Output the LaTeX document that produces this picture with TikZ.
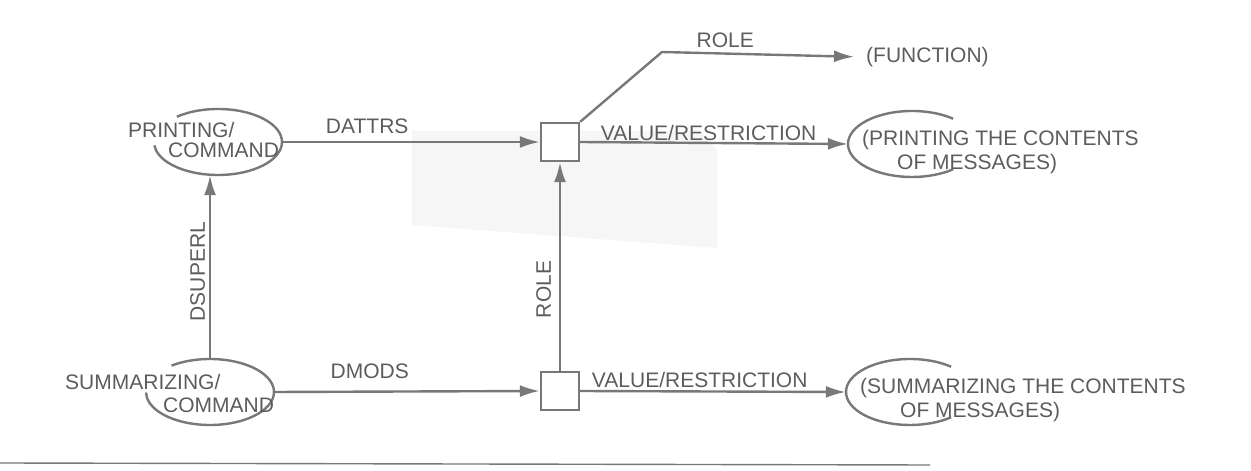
\documentclass[tikz,border=0pt]{standalone}
\usepackage{fontspec}
\setmainfont{Liberation Sans}
\usetikzlibrary{arrows.meta,shapes.geometric}
\definecolor{pencil}{RGB}{120,120,120}
\definecolor{lead}{RGB}{92,92,92}
\tikzset{
  ink/.style={draw=pencil, line width=2.4pt},
  link/.style={ink, -{Latex[length=20pt,width=12pt]}},
  slotbox/.style={ink, fill=white, rectangle, minimum size=38pt, inner sep=0pt},
  oval/.style={ellipse, minimum width=128pt, minimum height=66pt, inner sep=0pt},
  hand/.style={text=lead, font=\fontsize{21}{21}\selectfont, inner sep=0pt},
}
\begin{document}
\begin{tikzpicture}[x=1pt,y=1pt]
  \useasboundingbox (0,0) rectangle (1251,471);
  % Scanner shadow behind the middle
  \fill[gray!7] (412,340) -- (700,340) -- (717,321) -- (717,223) -- (412,246) -- cycle;
  % Concepts
  \node[oval] (print) at (218,329) {};
  \node[oval] (summ) at (210,79) {};
  \node[oval] (printc) at (912,327) {};
  \node[oval] (summc) at (910,79) {};
  % Hand-drawn rings, left open where the text runs through
  \foreach \n/\a/\b in {print/130/-174, summ/127/-179, printc/50/310, summc/50/310}{
    \draw[ink] (\n.center) ++(\a:64pt and 33pt)
      arc[start angle=\a, end angle=\b, x radius=64pt, y radius=33pt];
  }
  % Concept texts
  \node[hand, anchor=base west] (printa) at (128,333.5) {PRINTING/};
  \node[hand, anchor=base west] (printb) at (168,313.5) {COMMAND};
  \node[hand, anchor=base west] (summa) at (65,81.5) {SUMMARIZING/};
  \node[hand, anchor=base west] (summb) at (163,58.5) {COMMAND};
  \node[hand, anchor=base west] (printd) at (862,325.5) {(PRINTING THE CONTENTS};
  \node[hand, anchor=base west] (printe) at (897,301.5) {OF MESSAGES)};
  \node[hand, anchor=base west] (summd) at (860,77.5) {(SUMMARIZING THE CONTENTS};
  \node[hand, anchor=base west] (summe) at (900,53.5) {OF MESSAGES)};
  \node[hand, anchor=base west] (func) at (866,408.5) {(FUNCTION)};
  % Role slots
  \node[slotbox] (pslot) at (560,329) {};
  \node[slotbox] (sslot) at (560,80) {};
  \coordinate (bend) at (662,419);
  % Connectors
  \draw[link] (print.east) -- node[hand, pos=0.33, above=7pt] {DATTRS} (pslot.west);
  \draw[link] (summ.east) -- node[hand, pos=0.36, above=12pt] {DMODS} (sslot.west);
  \draw[link] (pslot.east) -- node[hand, pos=0.48, above=1pt] {VALUE/RESTRICTION} (printc.west);
  \draw[link] (sslot.east) -- node[hand, pos=0.45, above=3pt] {VALUE/RESTRICTION} (summc.west);
  \draw[link] (summ.north) -- node[hand, pos=0.475, rotate=90, anchor=south, outer sep=5pt] {DSUPERL}
    (summ.north |- print.south);
  \draw[link] (sslot.north) -- node[hand, pos=0.39, rotate=90, anchor=south, outer sep=9pt] {ROLE}
    (pslot.south);
  \draw[link, shorten >=12pt] (pslot.north east) -- (bend)
    -- node[hand, pos=0.31, above=5pt] {ROLE} (func.west);
  % Rule at the foot of the page
  \draw[pencil, line width=1.4pt] (0,8) -- (930,6);
\end{tikzpicture}
\end{document}
